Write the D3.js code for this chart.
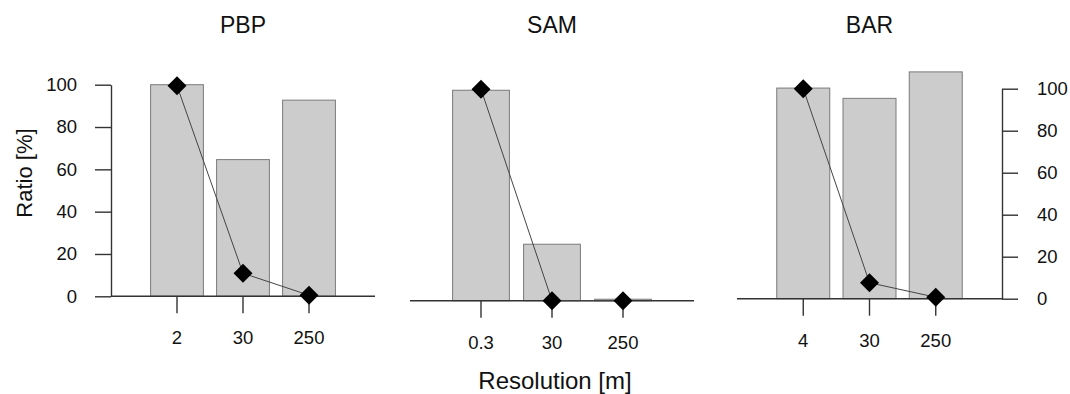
<!DOCTYPE html>
<html>
<head>
<meta charset="utf-8">
<script src="https://cdn.jsdelivr.net/npm/d3@7"></script>
<style>
  body { margin: 0; background: #fff; }
  svg { display: block; font-family: "Liberation Sans", Arial, sans-serif; }
  .axis text { font-family: "Liberation Sans", Arial, sans-serif; font-size: 18.5px; fill: #111; }
  .axis line, .axis path { stroke: #333; stroke-width: 1.4; }
</style>
</head>
<body>
<svg id="chart"></svg>
<script>
// values
const panel_names = ["PBP", "SAM", "BAR"];
const resolutions = [["2", "30", "250"], ["0.3", "30", "250"], ["4", "30", "250"]];
const bar_values = [[100, 64.6, 92.7], [99.5, 26.7, 0.7], [100.3, 95.4, 108]];
const point_values = [[99.5, 10.9, 0.5], [100, 0, 0], [100, 7.6, 0.7]];
const y_ticks = [0, 20, 40, 60, 80, 100];

// panel geometry (pixels): plot extent and where 0 / 100 land
const layout = [
  {left: 111, right: 375, y0: 296.3, y100: 84.7, axis: "left"},
  {left: 410, right: 694, y0: 300.7, y100: 89.2, axis: null},
  {left: 737, right: 1002, y0: 298.7, y100: 88.7, axis: "right"},
];

const width = 1070, height = 394;

const svg = d3.select("#chart")
  .attr("width", width)
  .attr("height", height);

const diamond = d3.symbol(d3.symbolSquare, 180);

panel_names.forEach((name, i) => {
  const L = layout[i];
  const g = svg.append("g");

  const x = d3.scaleBand()
    .domain(resolutions[i])
    .range([L.left, L.right])
    .paddingInner(0.2)
    .paddingOuter(0.6);

  const y = d3.scaleLinear()
    .domain([0, 100])
    .range([L.y0, L.y100]);

  const bars = resolutions[i].map((r, j) => ({r, v: bar_values[i][j]}));
  const points = resolutions[i].map((r, j) => ({r, v: point_values[i][j]}));

  g.selectAll("rect.bar")
    .data(bars)
    .join("rect")
    .classed("bar", true)
    .attr("x", d => x(d.r))
    .attr("y", d => y(d.v))
    .attr("width", x.bandwidth())
    .attr("height", d => y(0) - y(d.v))
    .attr("fill", "#cccccc")
    .attr("stroke", "#7a7a7a")
    .attr("stroke-width", 1);

  // zero line across the plot
  g.append("line")
    .attr("x1", L.left).attr("x2", L.right)
    .attr("y1", y(0)).attr("y2", y(0))
    .attr("stroke", "#333")
    .attr("stroke-width", 1.4);

  const xaxis = g.append("g")
    .classed("axis", true)
    .attr("transform", `translate(0,${y(0)})`)
    .call(d3.axisBottom(x).tickSizeInner(17).tickSizeOuter(0).tickPadding(18));
  xaxis.select(".domain").remove();

  if (L.axis === "left") {
    g.append("g")
      .classed("axis", true)
      .attr("transform", `translate(${L.left},0)`)
      .call(d3.axisLeft(y).tickValues(y_ticks).tickSizeInner(16).tickSizeOuter(0).tickPadding(18));
  } else if (L.axis === "right") {
    g.append("g")
      .classed("axis", true)
      .attr("transform", `translate(${L.right},0)`)
      .call(d3.axisRight(y).tickValues(y_ticks).tickSizeInner(16).tickSizeOuter(0).tickPadding(19));
  }

  const cx = d => x(d.r) + x.bandwidth() / 2;

  g.append("path")
    .datum(points)
    .attr("fill", "none")
    .attr("stroke", "#444")
    .attr("stroke-width", 1)
    .attr("d", d3.line().x(cx).y(d => y(d.v)));

  g.selectAll("path.pt")
    .data(points)
    .join("path")
    .classed("pt", true)
    .attr("d", diamond)
    .attr("transform", d => `translate(${cx(d)},${y(d.v)}) rotate(45)`)
    .attr("fill", "#000");

  g.append("text")
    .attr("x", (L.left + L.right) / 2)
    .attr("y", 33)
    .attr("text-anchor", "middle")
    .attr("font-size", 23)
    .attr("fill", "#111")
    .text(name);
});

svg.append("text")
  .attr("transform", "translate(32,173) rotate(-90)")
  .attr("text-anchor", "middle")
  .attr("font-size", 22)
  .attr("fill", "#111")
  .text("Ratio [%]");

svg.append("text")
  .attr("x", 555)
  .attr("y", 389)
  .attr("text-anchor", "middle")
  .attr("font-size", 24)
  .attr("fill", "#111")
  .text("Resolution [m]");
</script>
</body>
</html>
